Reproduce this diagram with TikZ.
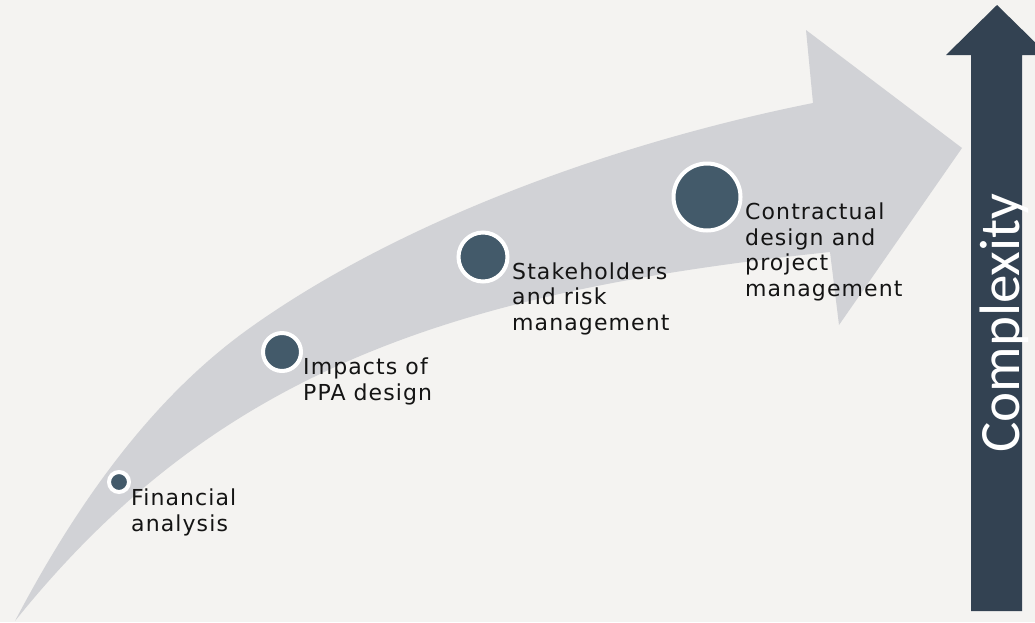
\documentclass[tikz,border=0pt]{standalone}
\usepackage{fontspec}
\setmainfont{DejaVu Sans}[LetterSpace=5]
\newfontfamily\cplxfont{Carlito}

\definecolor{pagebg}{HTML}{F4F3F1}
\definecolor{bandgrey}{HTML}{D1D2D6}
\definecolor{dotblue}{HTML}{435A6A}
\definecolor{axisblue}{HTML}{334252}

\tikzset{
	stepdot/.style={circle, fill=dotblue, draw=white, line width=4pt, inner sep=0pt},
	steplabel/.style={anchor=base west, align=left, inner sep=0pt,
		font=\fontsize{22}{25.5}\selectfont, text=black!92},
}

\begin{document}
\begin{tikzpicture}[x=1pt,y=-1pt]
	\useasboundingbox (0,0) rectangle (1035,622);
	\fill[pagebg] (0,0) rectangle (1035,622);
	\clip (0,0) rectangle (1035,622);
	% curved band
	\fill[bandgrey] (15,621) .. controls (90,478) and (167,388) .. (247,330)
		.. controls (397,222) and (613,143) .. (813,103)
		-- (806,30) -- (962,148) -- (839,325) -- (830,252)
		.. controls (450,292) and (215,372) .. (15,621) -- cycle;
	% complexity axis
	\fill[axisblue] (971,611) -- (971,55) -- (946,55) -- (997,5)
		-- (1048,55) -- (1022,55) -- (1022,611) -- cycle;
	\node[rotate=90, anchor=base, inner sep=0pt, text=white,
		font=\cplxfont\fontsize{57}{57}\selectfont] (cplx) at (1019,323) {Complexity};
	% steps
	\node[stepdot, minimum size=20pt] (fin) at (119,482) {};
	\node[steplabel] (finlbl) at (131,531) {Financial\\analysis};
	\node[stepdot, minimum size=38pt] (ppa) at (282,352) {};
	\node[steplabel] (ppalbl) at (303,400) {Impacts of\\PPA design};
	\node[stepdot, minimum size=49pt] (risk) at (483,257) {};
	\node[steplabel] (risklbl) at (512,330) {Stakeholders\\and risk\\management};
	\node[stepdot, minimum size=67pt] (pm) at (707,197) {};
	\node[steplabel] (pmlbl) at (745,296) {Contractual\\design and\\project\\management};
\end{tikzpicture}
\end{document}
